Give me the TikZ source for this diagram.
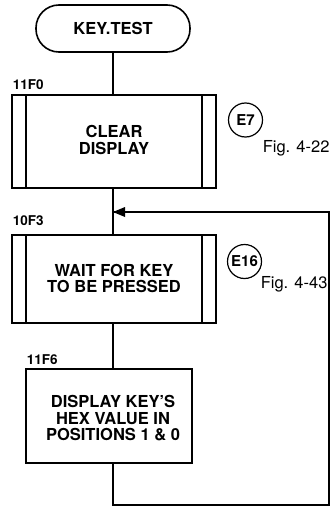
\documentclass[tikz,border=0pt]{standalone}
\usepackage{fontspec}
\setmainfont{TeX Gyre Heros}
\usetikzlibrary{arrows.meta}
\begin{document}
\begin{tikzpicture}[x=1pt,y=-1pt,
  line width=1.6pt,
  lbl/.style={font=\fontsize{16.5}{16.5}\selectfont\bfseries, align=center, inner sep=0pt},
  addr/.style={font=\fontsize{13.5}{14}\selectfont\bfseries, anchor=south west, inner sep=0pt},
  refc/.style={circle, draw, line width=1.2pt, minimum size=34pt, inner sep=0pt, font=\fontsize{15}{15}\selectfont\bfseries},
  figl/.style={font=\fontsize{16.5}{17}\selectfont, anchor=west, inner sep=0pt},
  box/.style={draw, minimum width=204pt, inner sep=0pt}
]
\useasboundingbox (0,0) rectangle (336,508);
% terminal
\node[draw, rounded corners=23pt, minimum width=154pt, minimum height=47pt, lbl] (start) at (113,28.5) {KEY.TEST};
% box 1
\node[box, minimum height=93pt] (b1) at (114,141.5) {};
\draw (26,95) -- (26,188) (202,95) -- (202,188);
\node[lbl] (t1) at (114,140) {CLEAR\\DISPLAY};
\node[addr] (a1) at (12,90) {11F0};
\node[refc] (e7) at (245.5,120) {E7};
\node[figl] (f1) at (262,148) {Fig. 4-22};
% box 2
\node[box, minimum height=88pt] (b2) at (114,279) {};
\draw (26,235) -- (26,323) (202,235) -- (202,323);
\node[lbl] (t2) at (114,278.5) {WAIT FOR KEY\\TO BE PRESSED};
\node[addr] (a2) at (12,226) {10F3};
\node[refc] (e16) at (244.5,261.5) {E16};
\node[figl] (f2) at (260,284.5) {Fig. 4-43};
% box 3
\node[draw, minimum width=166pt, minimum height=94pt, inner sep=0pt] (b3) at (109,416) {};
\node[lbl] (t3) at (113,418.5) {DISPLAY KEY'S\\HEX VALUE IN\\POSITIONS 1 \& 0};
\node[addr] (a3) at (26,365) {11F6};
% connectors
\coordinate (j) at (113,212);
\coordinate (bl) at (113,505);
\coordinate (br) at (329,505);
\coordinate (tr) at (329,212);
\draw (start.south) -- (start.south |- b1.north);
\draw (113,188) -- (113,235);
\draw (113,323) -- (113,369);
\draw (113,463) -- (bl) -- (br) -- (tr) -- (j);
\fill (j) -- ++(12,-5) -- ++(0,10) -- cycle;
\end{tikzpicture}
\end{document}
